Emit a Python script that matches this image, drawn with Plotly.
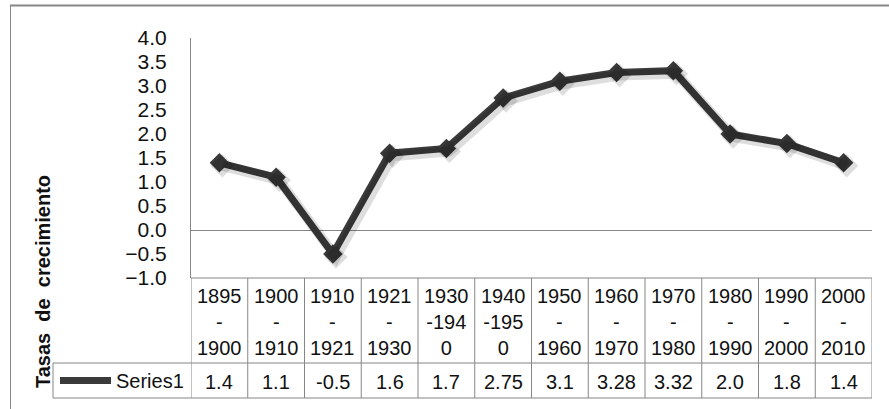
import plotly.graph_objects as go

# ---- data ----
periods = ["1895\n-\n1900", "1900\n-\n1910", "1910\n-\n1921", "1921\n-\n1930",
           "1930\n-194\n0", "1940\n-195\n0", "1950\n-\n1960", "1960\n-\n1970",
           "1970\n-\n1980", "1980\n-\n1990", "1990\n-\n2000", "2000\n-\n2010"]
values = [1.4, 1.1, -0.5, 1.6, 1.7, 2.75, 3.1, 3.28, 3.32, 2.0, 1.8, 1.4]
value_labels = ["1.4", "1.1", "-0.5", "1.6", "1.7", "2.75", "3.1", "3.28", "3.32", "2.0", "1.8", "1.4"]
series_name = "Series1"
y_title = "Tasas  de  crecimiento"

# ---- geometry (pixels) ----
W, H = 889, 409
L, R = 191, 872          # plot area x
T, B = 38, 278           # plot area y
ROW1, ROW2 = 363, 398    # table row separator / bottom
LEG_L = 53

def px(xp):
    return (xp - L) / (R - L)

def py(yp):
    return (B - yp) / (B - T)

FONT = "Liberation Sans, Arial, sans-serif"
GRID = "#868686"
LINE = "#3a3a3a"
TXT = "#111111"

n = len(values)
xs = list(range(n))
YMIN, YMAX = -1, 4
XMIN, XMAX = -0.5, n - 0.5

# shadow offset (pixels -> axis units)
sx = 3 * (XMAX - XMIN) / (R - L)
sy = 3 * (YMAX - YMIN) / (B - T)

fig = go.Figure()
# soft drop shadow drawn on offset axes
fig.add_trace(go.Scatter(
    x=xs, y=values, mode="lines+markers", xaxis="x2", yaxis="y2",
    line=dict(color="rgba(0,0,0,0.13)", width=10),
    marker=dict(symbol="diamond", size=18, color="rgba(0,0,0,0.13)"),
    showlegend=False, hoverinfo="skip", cliponaxis=False,
))
fig.add_trace(go.Scatter(
    x=xs, y=values, mode="lines+markers", name=series_name,
    line=dict(color=LINE, width=7),
    marker=dict(symbol="diamond", size=15, color=LINE),
    showlegend=False, cliponaxis=False,
))

shapes = []
ann = []

# table horizontal lines
shapes.append(dict(type="line", xref="paper", yref="paper", x0=0, x1=1, y0=0, y1=0,
                   line=dict(color=GRID, width=1)))
for yy in (ROW1, ROW2):
    shapes.append(dict(type="line", xref="paper", yref="paper", x0=px(LEG_L), x1=1,
                       y0=py(yy), y1=py(yy), line=dict(color=GRID, width=1)))
# table vertical lines (column boundaries from axis scale)
for i in range(n + 1):
    shapes.append(dict(type="line", xref="x", yref="paper", x0=i - 0.5, x1=i - 0.5,
                       y0=0, y1=py(ROW2), line=dict(color=GRID, width=1)))
# legend cell left border
shapes.append(dict(type="line", xref="paper", yref="paper", x0=px(LEG_L), x1=px(LEG_L),
                   y0=py(ROW1), y1=py(ROW2), line=dict(color=GRID, width=1)))
# legend key
ky = (ROW1 + ROW2) / 2
shapes.append(dict(type="line", xref="paper", yref="paper", x0=px(60), x1=px(111),
                   y0=py(ky), y1=py(ky), line=dict(color=LINE, width=7)))
# outer chart border (top & left)
shapes.append(dict(type="line", xref="paper", yref="paper", x0=px(10), x1=px(W),
                   y0=py(5.5), y1=py(5.5), line=dict(color=GRID, width=2)))
shapes.append(dict(type="line", xref="paper", yref="paper", x0=px(10.5), x1=px(10.5),
                   y0=py(5), y1=py(H), line=dict(color=GRID, width=1)))

# header text
for i, p in enumerate(periods):
    ann.append(dict(x=i, y=py(322), xref="x", yref="paper", text=p.replace("\n", "<br>"),
                    showarrow=False, font=dict(family=FONT, size=20, color=TXT),
                    xanchor="center", yanchor="middle"))
    ann.append(dict(x=i, y=py(382), xref="x", yref="paper", text=value_labels[i],
                    showarrow=False, font=dict(family=FONT, size=20, color=TXT),
                    xanchor="center", yanchor="middle"))
# legend text
ann.append(dict(x=px(114), y=py(381), xref="paper", yref="paper", text=series_name,
                showarrow=False, font=dict(family=FONT, size=20, color=TXT),
                xanchor="left", yanchor="middle"))
# y title
ann.append(dict(x=px(43), y=py(282), xref="paper", yref="paper", text="<b>" + y_title + "</b>",
                textangle=-90, showarrow=False, font=dict(family=FONT, size=20, color=TXT),
                xanchor="center", yanchor="middle"))

fig.update_layout(
    width=W, height=H,
    margin=dict(l=L, r=W - R, t=T, b=H - B, pad=0),
    paper_bgcolor="white", plot_bgcolor="white",
    shapes=shapes, annotations=ann,
    showlegend=False,
    xaxis=dict(range=[XMIN, XMAX], showticklabels=False, showgrid=False,
               zeroline=False, showline=False, fixedrange=True),
    xaxis2=dict(range=[XMIN - sx, XMAX - sx], overlaying="x", visible=False, fixedrange=True),
    yaxis2=dict(range=[YMIN + sy, YMAX + sy], overlaying="y", visible=False, fixedrange=True),
    yaxis=dict(range=[YMIN, YMAX], dtick=0.5, tick0=0, tickformat=".1f", showgrid=False,
               zeroline=True, zerolinecolor=GRID, zerolinewidth=1,
               showline=True, linecolor=GRID, linewidth=1, ticks="",
               ticklabelstandoff=19,
               tickfont=dict(family=FONT, size=21, color=TXT), fixedrange=True),
)

fig.write_html("out.html", config={"displayModeBar": False},
               post_script="document.body.style.margin='0';document.body.style.overflow='hidden';")
